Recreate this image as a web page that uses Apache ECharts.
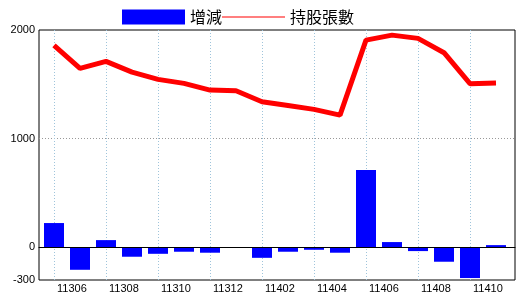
<!DOCTYPE html>
<html>
<head>
<meta charset="utf-8">
<script src="https://cdn.jsdelivr.net/npm/echarts@6/dist/echarts.min.js"></script>
<style>html,body{margin:0;padding:0;background:#fff;}#c{width:520px;height:300px;}</style>
</head>
<body>
<div id="c"></div>
<script>
var categories = ['11306','11307','11308','11309','11310','11311','11312','11401','11402','11403','11404','11405','11406','11407','11408','11409','11410','11411'];
var changeValues = [224, -206, 67, -86, -59, -40, -49, 0, -96, -40, -22, -49, 711, 49, -34, -132, -282, 21];
var holderValues = [1858, 1647, 1711, 1613, 1546, 1509, 1447, 1441, 1340, 1306, 1270, 1217, 1907, 1953, 1923, 1791, 1506, 1512];
var yTickValues = [-300, 0, 1000, 2000];
var seriesNames = ['增減', '持股張數'];

var chart = echarts.init(document.getElementById('c'), null, {renderer: 'canvas'});
var axisFont = {fontFamily: 'Liberation Sans', fontSize: 11, color: '#000'};
chart.setOption({
  animation: false,
  backgroundColor: '#fff',
  legend: {
    left: 122, top: 9, padding: 0, itemGap: 0,
    itemWidth: 63, itemHeight: 15,
    symbolKeepAspect: true,
    textStyle: {fontFamily: 'Noto Sans CJK TC', fontSize: 16, color: '#000'},
    data: [
      {name: seriesNames[0], icon: 'rect'},
      {name: seriesNames[1], icon: 'path://M0,0H63V1H0Z', itemStyle: {color: '#ff0000', borderWidth: 0}, lineStyle: {width: 1}}
    ]
  },
  grid: [
    {left: 54, right: 24, top: 30, bottom: 20, show: false},
    {left: 39, right: 5, top: 30, bottom: 20, show: true, borderColor: '#000', borderWidth: 1, backgroundColor: 'transparent'}
  ],
  xAxis: [
    {
      gridIndex: 0, type: 'category', data: categories, boundaryGap: false,
      axisLine: {show: false}, axisTick: {show: false},
      axisLabel: Object.assign({interval: 1, align: 'left', margin: 3, padding: [0, 0, 0, 3]}, axisFont),
      splitLine: {show: true, interval: 1, lineStyle: {color: '#9fc4db', type: [1, 2], width: 1}}
    },
    {
      gridIndex: 1, type: 'value', min: 0, max: 1, z: 5,
      axisLine: {show: true, onZero: true, lineStyle: {color: '#000', width: 1}},
      axisTick: {show: false}, axisLabel: {show: false}, splitLine: {show: false}
    }
  ],
  yAxis: [
    {
      gridIndex: 0, type: 'value', min: -300, max: 2000,
      axisLine: {show: false}, axisTick: {show: false}, axisLabel: {show: false}, splitLine: {show: false}
    },
    {
      gridIndex: 1, type: 'value', min: -300, max: 2000,
      axisLine: {show: false},
      axisTick: {show: false, customValues: yTickValues},
      axisLabel: Object.assign({customValues: yTickValues, margin: 4, formatter: function (v) { return String(v); }}, axisFont),
      splitLine: {show: true, showMinLine: false, showMaxLine: false, lineStyle: {color: '#999', type: [1, 2], width: 1}}
    }
  ],
  series: [
    {
      name: seriesNames[0], type: 'bar', xAxisIndex: 0, yAxisIndex: 0,
      data: changeValues, barWidth: 20, clip: false,
      itemStyle: {color: '#0000ff'}, z: 3
    },
    {
      name: seriesNames[1], type: 'line', xAxisIndex: 0, yAxisIndex: 0,
      data: holderValues, symbol: 'none', clip: false,
      lineStyle: {color: '#ff0000', width: 5}, itemStyle: {color: '#ff0000'}, z: 4
    }
  ]
});
</script>
</body>
</html>
